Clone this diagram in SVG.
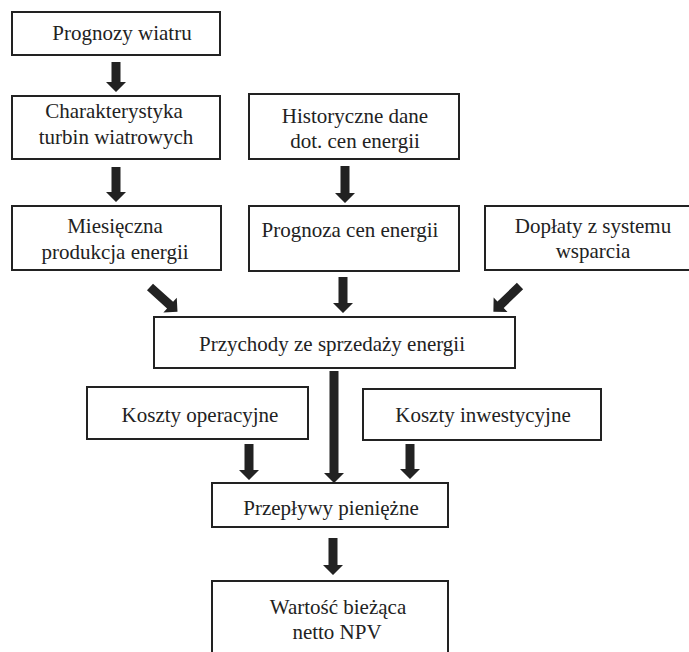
<svg xmlns="http://www.w3.org/2000/svg" width="689" height="652" viewBox="0 0 689 652">
<style>
.box{fill:#fff;stroke:#222;stroke-width:2}
.t{font-size:21px;fill:#222;text-anchor:middle}
.ar{fill:#222;stroke:none}
</style>
<rect width="689" height="652" fill="#fff"/>
<g id="connectors">
<polygon class="ar" points="111.5,62 120.5,62 120.5,82 126,82 116,92 106,82 111.5,82"/>
<polygon class="ar" points="111.5,167 120.5,167 120.5,192 126,192 116,202 106,192 111.5,192"/>
<polygon class="ar" points="340.5,166 349.5,166 349.5,193 355,193 345,203 335,193 340.5,193"/>
<polygon class="ar" points="338.5,277 347.5,277 347.5,303 353,303 343,313 333,303 338.5,303"/>
<polygon class="ar" transform="translate(150,287) rotate(-48)" points="-4.5,0 4.5,0 4.5,27 10,27 0,37 -10,27 -4.5,27"/>
<polygon class="ar" transform="translate(520,286) rotate(46)" points="-4.5,0 4.5,0 4.5,27 10,27 0,37 -10,27 -4.5,27"/>
<polygon class="ar" points="329.5,371 338.5,371 338.5,473 344,473 334,483 324,473 329.5,473"/>
<polygon class="ar" points="244.5,444 253.5,444 253.5,470 259,470 249,480 239,470 244.5,470"/>
<polygon class="ar" points="405.5,444 414.5,444 414.5,469 420,469 410,479 400,469 405.5,469"/>
<polygon class="ar" points="328.5,538 337.5,538 337.5,565 343,565 333,575 323,565 328.5,565"/>
</g>
<g font-family="Liberation Serif, Times New Roman, serif">
<g id="n1"><rect class="box" x="12" y="12" width="208" height="43"/><text class="t" x="122" y="40">Prognozy wiatru</text></g>
<g id="n2"><rect class="box" x="12" y="96" width="208" height="63"/><text class="t" x="114" y="118">Charakterystyka</text><text class="t" x="116" y="144">turbin wiatrowych</text></g>
<g id="n3"><rect class="box" x="249" y="94" width="210" height="65"/><text class="t" x="355" y="123">Historyczne dane</text><text class="t" x="355" y="148">dot. cen energii</text></g>
<g id="n4"><rect class="box" x="12" y="206" width="209" height="64"/><text class="t" x="115" y="233">Miesięczna</text><text class="t" x="115" y="259">produkcja energii</text></g>
<g id="n5"><rect class="box" x="249" y="206" width="210" height="65"/><text class="t" x="350" y="237">Prognoza cen energii</text></g>
<g id="n6"><rect class="box" x="485" y="206" width="220" height="64"/><text class="t" x="593" y="233">Dopłaty z systemu</text><text class="t" x="593" y="258">wsparcia</text></g>
<g id="n7"><rect class="box" x="154" y="317" width="361" height="51"/><text class="t" x="332" y="351">Przychody ze sprzedaży energii</text></g>
<g id="n8"><rect class="box" x="87" y="387" width="221" height="52"/><text class="t" x="200" y="422">Koszty operacyjne</text></g>
<g id="n9"><rect class="box" x="363" y="389" width="238" height="51"/><text class="t" x="483" y="422">Koszty inwestycyjne</text></g>
<g id="n10"><rect class="box" x="212" y="483" width="236" height="44"/><text class="t" x="331" y="515">Przepływy pieniężne</text></g>
<g id="n11"><path class="box" d="M212,660 V581 H448 V660"/><text class="t" x="338" y="614">Wartość bieżąca</text><text class="t" x="337" y="639">netto NPV</text></g>
</g>
</svg>
